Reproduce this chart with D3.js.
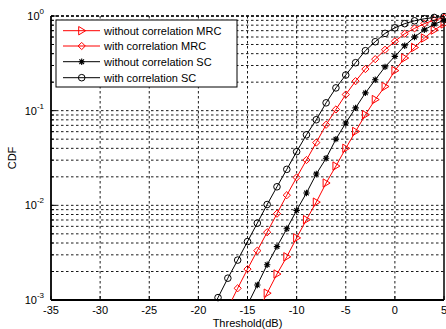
<!DOCTYPE html>
<html><head><meta charset="utf-8">
<script src="https://cdn.jsdelivr.net/npm/d3@7"></script>
<style>
body{margin:0;background:#fff}
svg{display:block}
text{font-family:"Liberation Sans",Arial,Helvetica,sans-serif;fill:#000}
</style>
</head><body>
<svg id="chart" width="446" height="329"></svg>
<script>
// ---- data ----
const thresholdDb = [-19,-18,-17,-16,-15,-14,-13,-12,-11,-10,-9,-8,-7,-6,-5,-4,-3,-2,-1,0,1,2,3,4,5];
const withoutCorrMRC = [null,null,null,null,null,7.4e-4,1.18e-3,1.88e-3,2.86e-3,4.53e-3,7.05e-3,1.08e-2,1.72e-2,2.60e-2,4.0e-2,6.03e-2,9.06e-2,0.131,0.18,0.265,0.36,0.465,0.585,0.71,0.825];
const withCorrMRC = [null,null,8.2e-4,1.33e-3,2.12e-3,3.32e-3,5.20e-3,8.16e-3,1.28e-2,1.97e-2,3.01e-2,4.60e-2,7.10e-2,0.103,0.148,0.205,0.275,0.35,0.44,0.54,0.65,0.74,0.83,0.905,0.96];
const withoutCorrSC = [null,null,null,null,8.9e-4,1.44e-3,2.36e-3,3.66e-3,5.65e-3,8.85e-3,1.35e-2,2.14e-2,3.14e-2,5.0e-2,7.40e-2,0.107,0.154,0.212,0.29,0.375,0.485,0.60,0.715,0.82,0.90];
const withCorrSC = [6.5e-4,1.06e-3,1.70e-3,2.64e-3,4.14e-3,6.49e-3,1.02e-2,1.57e-2,2.40e-2,3.69e-2,5.56e-2,8.02e-2,0.121,0.174,0.238,0.321,0.43,0.535,0.655,0.75,0.83,0.89,0.935,0.965,0.985];
const seriesNames = ["without correlation MRC","with correlation MRC","without correlation SC","with correlation SC"];
const seriesColors = ["#ff0000","#ff0000","#000000","#000000"];
const seriesMarkers = ["triangle","diamond","star","circle"];
const xTicks = [-35,-30,-25,-20,-15,-10,-5,0,5];
const yDecades = [-3,-2,-1,0];
const xLabel = "Threshold(dB)";
const yLabel = "CDF";

// ---- layout ----
const L = 51, R = 444, T = 16, B = 300;
const svg = d3.select("#chart");
const x = d3.scaleLinear().domain([-35,5]).range([L,R]);
const y = d3.scaleLog().domain([1e-3,1]).range([B,T]);

const allSeries = [withoutCorrMRC, withCorrMRC, withoutCorrSC, withCorrSC];

svg.append("defs").append("clipPath").attr("id","plotClip")
  .append("rect").attr("x",L).attr("y",T).attr("width",R-L).attr("height",B-T);

// grid
const grid = svg.append("g").attr("stroke","#000").attr("stroke-width",0.9).attr("stroke-dasharray","2.5,2.5").attr("fill","none");
xTicks.forEach(t => {
  if (t > -35 && t < 5) grid.append("line").attr("x1",x(t)).attr("x2",x(t)).attr("y1",T).attr("y2",B);
});
const minorVals = [];
yDecades.forEach(d => { for (let m=1;m<10;m++){ const v=m*Math.pow(10,d); if (v>1e-3 && v<=1) minorVals.push(v);} });
minorVals.forEach(v => grid.append("line").attr("x1",L).attr("x2",R).attr("y1",y(v)).attr("y2",y(v)));

// ticks on left axis (inside)
const ticks = svg.append("g").attr("stroke","#000").attr("stroke-width",1);
yDecades.forEach(d => {
  ticks.append("line").attr("x1",L).attr("x2",L+5).attr("y1",y(Math.pow(10,d))).attr("y2",y(Math.pow(10,d)));
  for (let m=2;m<10;m++){ const v=m*Math.pow(10,d); if (v<1) ticks.append("line").attr("x1",L).attr("x2",L+3).attr("y1",y(v)).attr("y2",y(v)); }
});
xTicks.forEach(t => ticks.append("line").attr("x1",x(t)).attr("x2",x(t)).attr("y1",B).attr("y2",B-4));

// axes box
svg.append("line").attr("x1",L).attr("x2",L).attr("y1",T).attr("y2",B).attr("stroke","#000").attr("stroke-width",1.8);
svg.append("line").attr("x1",L).attr("x2",R).attr("y1",B).attr("y2",B).attr("stroke","#000").attr("stroke-width",1.8);
svg.append("line").attr("x1",R).attr("x2",R).attr("y1",T).attr("y2",B).attr("stroke","#000").attr("stroke-width",1.5);
svg.append("line").attr("x1",L).attr("x2",R).attr("y1",T).attr("y2",T).attr("stroke","#000").attr("stroke-width",1.4).attr("stroke-dasharray","3,2");

// markers
function drawMarker(g, type, cx, cy, color){
  if (type==="circle"){
    g.append("circle").attr("cx",cx).attr("cy",cy).attr("r",3.3).attr("fill","none").attr("stroke",color).attr("stroke-width",1);
  } else if (type==="diamond"){
    const s=3.6;
    g.append("path").attr("d",`M${cx},${cy-s}L${cx+s},${cy}L${cx},${cy+s}L${cx-s},${cy}Z`).attr("fill","none").attr("stroke",color).attr("stroke-width",1);
  } else if (type==="triangle"){
    g.append("path").attr("d",`M${cx-3},${cy-4.2}L${cx+4},${cy}L${cx-3},${cy+4.2}Z`).attr("fill","none").attr("stroke",color).attr("stroke-width",1);
  } else if (type==="star"){
    const s=3.2, d=2.3;
    g.append("path").attr("d",`M${cx-s},${cy}L${cx+s},${cy}M${cx},${cy-s}L${cx},${cy+s}M${cx-d},${cy-d}L${cx+d},${cy+d}M${cx-d},${cy+d}L${cx+d},${cy-d}`)
      .attr("fill","none").attr("stroke",color).attr("stroke-width",1.1);
  }
}

const line = d3.line().defined(d => d.v != null).x(d => x(d.t)).y(d => y(d.v));
allSeries.forEach((vals, i) => {
  const pts = thresholdDb.map((t,k) => ({t, v: vals[k]}));
  svg.append("path").datum(pts).attr("d",line).attr("fill","none")
    .attr("stroke",seriesColors[i]).attr("stroke-width",1).attr("clip-path","url(#plotClip)");
  const mg = svg.append("g");
  pts.filter(p => p.v != null && p.v >= 1e-3 && p.v <= 1).forEach(p => drawMarker(mg, seriesMarkers[i], x(p.t), y(p.v), seriesColors[i]));
});

// tick labels
const lab = svg.append("g").attr("font-size",11);
xTicks.forEach(t => lab.append("text").attr("x",x(t)).attr("y",314).attr("text-anchor","middle").text(t));
yDecades.forEach(d => {
  const tx = lab.append("text").attr("x",44).attr("y",y(Math.pow(10,d))+4).attr("text-anchor","end");
  tx.append("tspan").text("10");
  tx.append("tspan").attr("font-size",8).attr("dy",-6).text(String(d));
});
svg.append("text").attr("x",(L+R)/2).attr("y",327).attr("text-anchor","middle").attr("font-size",11).text(xLabel);
svg.append("text").attr("transform",`translate(16,${(T+B)/2}) rotate(-90)`).attr("text-anchor","middle").attr("font-size",11).text(yLabel);

// legend
const lg = svg.append("g");
lg.append("rect").attr("x",56).attr("y",20).attr("width",181).attr("height",67).attr("fill","#fff").attr("stroke","#000").attr("stroke-width",1);
const rowsY = [30.7,46,61.7,77.7];
seriesNames.forEach((n,i) => {
  lg.append("line").attr("x1",63).attr("x2",100).attr("y1",rowsY[i]).attr("y2",rowsY[i]).attr("stroke",seriesColors[i]).attr("stroke-width",1);
  drawMarker(lg, seriesMarkers[i], 81.7, rowsY[i], seriesColors[i]);
  lg.append("text").attr("x",104).attr("y",rowsY[i]+4).attr("font-size",11).text(n);
});
</script>
</body></html>
